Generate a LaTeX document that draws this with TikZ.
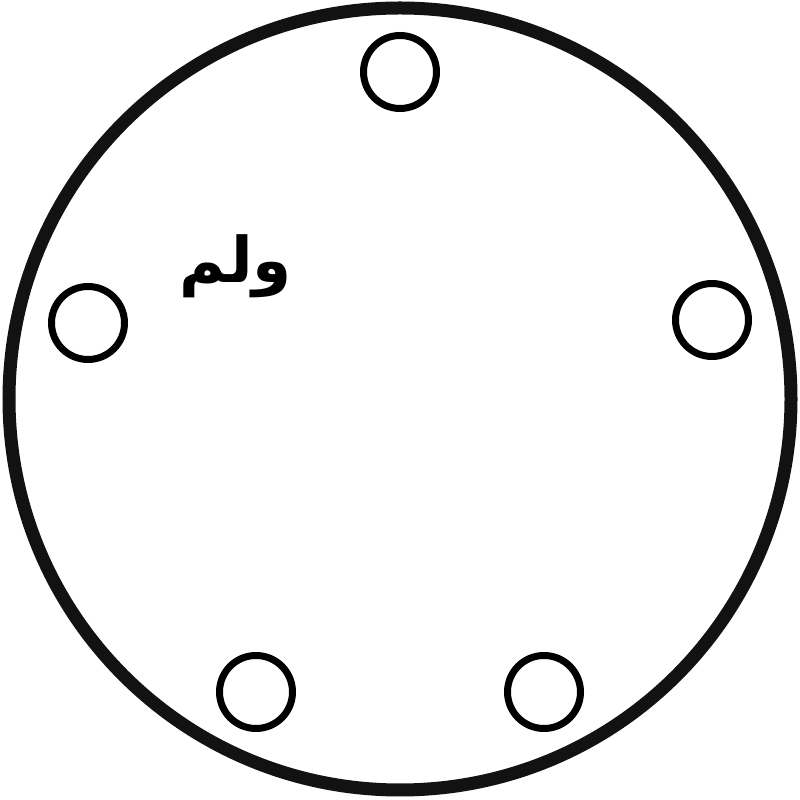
\documentclass[tikz,border=0pt]{standalone}
\usepackage{fontspec}
\newfontfamily\arabicfont[Script=Arabic]{DejaVu Sans}
\TeXXeTstate=1
\begin{document}
\begin{tikzpicture}[x=1pt,y=1pt,
  outer/.style={draw=black!93,line width=13pt},
  hole/.style={circle,draw=black,line width=7pt,minimum size=73pt,inner sep=0pt}]
\useasboundingbox (0,0) rectangle (800,800);
\draw[outer] (400,401) circle (391);
\node[hole] (h1) at (400,728) {};
\node[hole] (h2) at (88,477) {};
\node[hole] (h3) at (712,480) {};
\node[hole] (h4) at (256,108) {};
\node[hole] (h5) at (544,108) {};
\node[font=\arabicfont\bfseries\fontsize{63}{70}\selectfont] (t) at (236,534) {\beginR ولم\endR};
\end{tikzpicture}
\end{document}
